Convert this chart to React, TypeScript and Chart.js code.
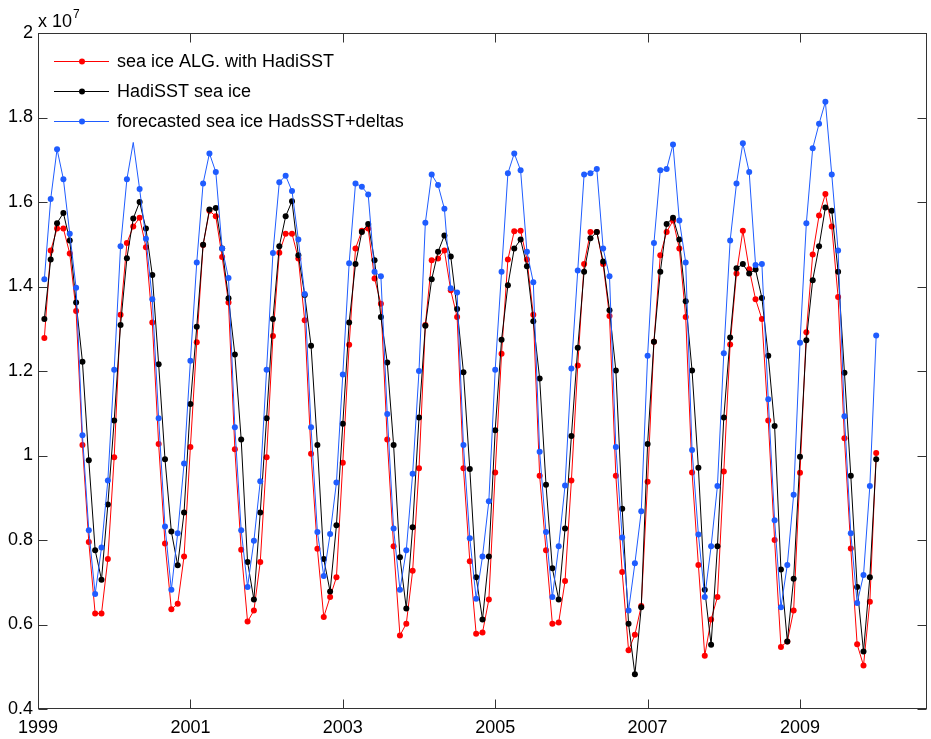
import React, { useEffect, useRef } from 'react';
import { Chart, registerables } from 'chart.js';

Chart.register(...registerables);

// month index since Jan 1999 (1 = Jan 1999 ... 132 = Dec 2009)
const months = Array.from({ length: 132 }, (_, i) => i + 1);

// values in units of 10^7
const seaIceAlg = [
  1.278, 1.485, 1.537, 1.537, 1.478, 1.342, 1.025, 0.795, 0.626, 0.626, 0.755, 0.996,
  1.333, 1.503, 1.542, 1.563, 1.493, 1.315, 1.027, 0.792, 0.636, 0.649, 0.761, 1.020,
  1.268, 1.498, 1.579, 1.566, 1.470, 1.362, 1.015, 0.777, 0.607, 0.633, 0.748, 0.996,
  1.283, 1.480, 1.525, 1.525, 1.466, 1.320, 1.004, 0.779, 0.618, 0.665, 0.712, 0.983,
  1.262, 1.490, 1.532, 1.537, 1.419, 1.359, 1.038, 0.785, 0.574, 0.602, 0.727, 0.970,
  1.309, 1.462, 1.466, 1.485, 1.391, 1.328, 0.970, 0.750, 0.578, 0.581, 0.659, 0.960,
  1.241, 1.464, 1.531, 1.532, 1.464, 1.333, 0.952, 0.776, 0.602, 0.605, 0.703, 0.941,
  1.213, 1.453, 1.529, 1.529, 1.453, 1.330, 0.952, 0.724, 0.539, 0.576, 0.644, 0.938,
  1.269, 1.474, 1.529, 1.556, 1.490, 1.328, 0.960, 0.741, 0.526, 0.612, 0.665, 0.962,
  1.263, 1.431, 1.532, 1.441, 1.370, 1.323, 1.083, 0.800, 0.547, 0.560, 0.633, 0.959,
  1.292, 1.476, 1.568, 1.619, 1.542, 1.375, 1.041, 0.780, 0.553, 0.503, 0.654, 1.006,
];

const hadiSST = [
  1.323, 1.464, 1.550, 1.574, 1.509, 1.362, 1.222, 0.989, 0.776, 0.706, 0.884, 1.083,
  1.309, 1.467, 1.561, 1.600, 1.537, 1.427, 1.216, 0.991, 0.820, 0.740, 0.865, 1.122,
  1.305, 1.499, 1.582, 1.586, 1.490, 1.372, 1.239, 1.038, 0.748, 0.659, 0.865, 1.088,
  1.323, 1.495, 1.566, 1.602, 1.474, 1.380, 1.260, 1.025, 0.755, 0.678, 0.835, 1.075,
  1.315, 1.453, 1.529, 1.548, 1.462, 1.328, 1.220, 1.025, 0.759, 0.638, 0.830, 1.090,
  1.307, 1.417, 1.482, 1.521, 1.471, 1.347, 1.197, 0.968, 0.712, 0.612, 0.761, 1.060,
  1.274, 1.403, 1.490, 1.511, 1.448, 1.318, 1.182, 0.931, 0.733, 0.659, 0.827, 1.046,
  1.255, 1.435, 1.514, 1.529, 1.459, 1.344, 1.201, 0.874, 0.602, 0.482, 0.641, 1.027,
  1.269, 1.435, 1.548, 1.563, 1.511, 1.365, 1.201, 0.971, 0.682, 0.552, 0.785, 1.090,
  1.279, 1.443, 1.453, 1.431, 1.440, 1.373, 1.236, 1.070, 0.730, 0.560, 0.708, 0.997,
  1.273, 1.415, 1.495, 1.587, 1.579, 1.435, 1.196, 0.952, 0.689, 0.536, 0.712, 0.991,
];

const forecasted = [
  1.417, 1.607, 1.725, 1.654, 1.525, 1.397, 1.048, 0.823, 0.672, 0.782, 0.941, 1.203,
  1.495, 1.654, 1.741, 1.631, 1.513, 1.370, 1.088, 0.832, 0.682, 0.816, 0.981, 1.224,
  1.457, 1.644, 1.715, 1.671, 1.490, 1.420, 1.067, 0.823, 0.689, 0.798, 0.939, 1.203,
  1.479, 1.647, 1.662, 1.626, 1.511, 1.382, 1.067, 0.819, 0.715, 0.814, 0.936, 1.192,
  1.455, 1.644, 1.636, 1.618, 1.435, 1.424, 1.098, 0.827, 0.682, 0.776, 0.957, 1.200,
  1.551, 1.665, 1.640, 1.584, 1.396, 1.386, 1.025, 0.804, 0.661, 0.761, 0.892, 1.203,
  1.435, 1.668, 1.715, 1.675, 1.482, 1.410, 1.009, 0.819, 0.665, 0.785, 0.929, 1.206,
  1.438, 1.665, 1.668, 1.678, 1.490, 1.424, 1.020, 0.806, 0.633, 0.745, 0.868, 1.236,
  1.503, 1.675, 1.678, 1.736, 1.556, 1.457, 1.013, 0.813, 0.665, 0.785, 0.928, 1.242,
  1.509, 1.644, 1.739, 1.671, 1.451, 1.453, 1.133, 0.847, 0.641, 0.741, 0.907, 1.267,
  1.550, 1.727, 1.785, 1.837, 1.665, 1.485, 1.093, 0.816, 0.651, 0.717, 0.928, 1.284,
];

const xTickMonths = [0, 24, 48, 72, 96, 120];
const xTickLabels = ['1999', '2001', '2003', '2005', '2007', '2009'];
const yTickValues = [0.4, 0.6, 0.8, 1, 1.2, 1.4, 1.6, 1.8, 2];
const yTickLabels = ['0.4', '0.6', '0.8', '1', '1.2', '1.4', '1.6', '1.8', '2'];

const seriesNames = [
  'sea ice ALG. with HadiSST',
  'HadiSST sea ice',
  'forecasted sea ice HadsSST+deltas',
];
const seriesColors = ['#ff0000', '#000000', '#1f5cff'];

const FONT = '"Liberation Sans", Arial, Helvetica, sans-serif';

const framePlugin = {
  id: 'matlabFrame',
  afterDraw(chart: any) {
    const { ctx, chartArea: a, scales } = chart;
    ctx.save();
    ctx.strokeStyle = '#333333';
    ctx.lineWidth = 1;
    const L = Math.round(a.left) + 0.5;
    const R = Math.round(a.right) - 0.5;
    const T = Math.round(a.top) + 0.5;
    const B = Math.round(a.bottom) - 0.5;
    ctx.strokeRect(L, T, R - L, B - T);
    const tl = 9;
    ctx.beginPath();
    scales.x.ticks.forEach((t: any) => {
      const px = Math.round(scales.x.getPixelForValue(t.value)) + 0.5;
      ctx.moveTo(px, B);
      ctx.lineTo(px, B - tl);
      ctx.moveTo(px, T);
      ctx.lineTo(px, T + tl);
    });
    scales.y.ticks.forEach((t: any) => {
      const py = Math.round(scales.y.getPixelForValue(t.value)) + 0.5;
      ctx.moveTo(L, py);
      ctx.lineTo(L + tl, py);
      ctx.moveTo(R, py);
      ctx.lineTo(R - tl, py);
    });
    ctx.stroke();

    // exponent label
    ctx.fillStyle = '#000';
    ctx.textAlign = 'left';
    ctx.textBaseline = 'alphabetic';
    ctx.font = `18px ${FONT}`;
    ctx.fillText('x 10', 38, 27);
    const w = ctx.measureText('x 10').width;
    ctx.font = `12px ${FONT}`;
    ctx.fillText('7', 38 + w + 1, 18);

    // legend
    const rows = [61, 91, 121];
    chart.data.datasets.forEach((ds: any, i: number) => {
      const y = rows[i];
      ctx.strokeStyle = ds.borderColor;
      ctx.lineWidth = 1;
      ctx.beginPath();
      ctx.moveTo(54, y + 0.5);
      ctx.lineTo(109, y + 0.5);
      ctx.stroke();
      ctx.fillStyle = ds.borderColor;
      ctx.beginPath();
      ctx.arc(82, y + 0.5, 3, 0, Math.PI * 2);
      ctx.fill();
      ctx.fillStyle = '#000';
      ctx.font = `18px ${FONT}`;
      ctx.textBaseline = 'middle';
      ctx.fillText(ds.label, 117, y + 1);
    });
    ctx.restore();
  },
};

export default function App() {
  const canvasRef = useRef<HTMLCanvasElement | null>(null);

  useEffect(() => {
    document.body.style.margin = '0';
    const canvas = canvasRef.current;
    if (!canvas) return;
    const seriesValues = [seaIceAlg, hadiSST, forecasted];
    const orders = [2, 1, 0];
    const datasets = seriesValues.map((vals, si) => ({
      label: seriesNames[si],
      data: vals.map((v, i) => ({ x: months[i], y: v })),
      borderColor: seriesColors[si],
      backgroundColor: seriesColors[si],
      pointBackgroundColor: seriesColors[si],
      pointBorderWidth: 0,
      pointRadius: si === 2 ? vals.map((_, i) => (i === 14 ? 0 : 3)) : 3,
      borderWidth: 1,
      tension: 0,
      order: orders[si],
    }));

    const chart = new Chart(canvas, {
      type: 'line',
      data: { datasets },
      options: {
        animation: false,
        responsive: true,
        maintainAspectRatio: false,
        layout: { padding: { top: 33, right: 1, left: 0, bottom: 0 } },
        plugins: {
          legend: { display: false },
          tooltip: { enabled: false },
        },
        scales: {
          x: {
            type: 'linear',
            min: 0,
            max: 140,
            grid: { display: false, drawTicks: false },
            border: { display: false },
            afterBuildTicks: (s: any) => {
              s.ticks = xTickMonths.map((v) => ({ value: v }));
            },
            afterFit: (s: any) => {
              s.height = 30;
            },
            ticks: {
              autoSkip: false,
              maxRotation: 0,
              padding: 8,
              color: '#000',
              font: { family: FONT, size: 18 },
              callback: (v: any) => xTickLabels[xTickMonths.indexOf(Number(v))] ?? '',
            },
          },
          y: {
            type: 'linear',
            min: 0.4,
            max: 2,
            grid: { display: false, drawTicks: false },
            border: { display: false },
            afterBuildTicks: (s: any) => {
              s.ticks = yTickValues.map((v) => ({ value: v }));
            },
            afterFit: (s: any) => {
              s.width = 38;
            },
            ticks: {
              autoSkip: false,
              padding: 5,
              color: '#000',
              font: { family: FONT, size: 18 },
              callback: (v: any) => {
                const idx = yTickValues.findIndex((t) => Math.abs(t - Number(v)) < 1e-9);
                return idx >= 0 ? yTickLabels[idx] : '';
              },
            },
          },
        },
      },
      plugins: [framePlugin],
    } as any);

    return () => chart.destroy();
  }, []);

  return (
    <div style={{ position: 'fixed', left: 0, top: 0, width: 931, height: 739, background: '#fff' }}>
      <canvas ref={canvasRef} />
    </div>
  );
}
